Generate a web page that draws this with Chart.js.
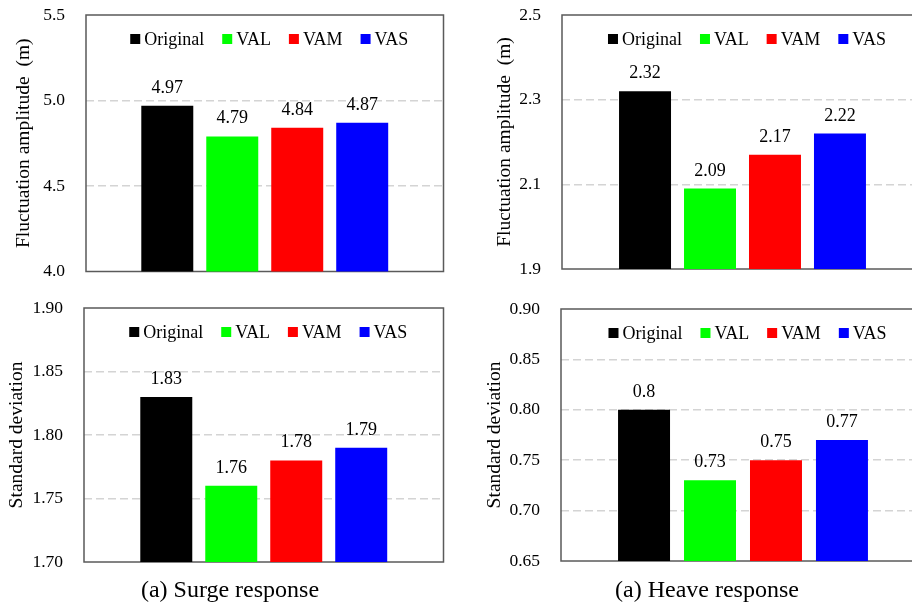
<!DOCTYPE html>
<html><head><meta charset="utf-8">
<script src="https://cdn.jsdelivr.net/npm/chart.js@4"></script>
<style>
html,body{margin:0;padding:0;background:#fff;overflow:hidden;width:912px;height:607px;}
canvas{position:absolute;}
</style></head><body>
<canvas id="c1" width="460" height="290" style="left:0;top:0"></canvas>
<canvas id="c2" width="480" height="290" style="left:460px;top:0"></canvas>
<canvas id="c3" width="460" height="317" style="left:0;top:290px"></canvas>
<canvas id="c4" width="494" height="317" style="left:460px;top:290px"></canvas>
<script>
// ---- data ----
const seriesNames = ['Original', 'VAL', 'VAM', 'VAS'];
const surgeAmplitude = [4.97, 4.79, 4.84, 4.87];
const heaveAmplitude = [2.32, 2.09, 2.17, 2.22];
const surgeStd = [1.83, 1.76, 1.78, 1.79];
const heaveStd = [0.8, 0.73, 0.75, 0.77];
const surgeAmpTicks = ['4.0', '4.5', '5.0', '5.5'];
const heaveAmpTicks = ['1.9', '2.1', '2.3', '2.5'];
const surgeStdTicks = ['1.70', '1.75', '1.80', '1.85', '1.90'];
const heaveStdTicks = ['0.65', '0.70', '0.75', '0.80', '0.85', '0.90'];
const ampTitle = 'Fluctuation amplitude  (m)';
const stdTitle = 'Standard deviation';
const surgeCaption = '(a) Surge response';
const heaveCaption = '(a) Heave response';

// ---- styles ----
const seriesColors = ['#000000', '#00ff00', '#ff0000', '#0000ff'];
const SERIF = "'Liberation Serif', 'Times New Roman', serif";
Chart.defaults.font.family = SERIF;
Chart.defaults.color = '#000';

const framePlugin = {
  id: 'frame',
  beforeDatasetsDraw(chart) {
    const a = chart.chartArea, ctx = chart.ctx;
    ctx.save();
    ctx.strokeStyle = '#5a5a5a';
    ctx.lineWidth = 1.5;
    ctx.strokeRect(a.left, a.top, a.right - a.left, a.bottom - a.top);
    ctx.restore();
  }
};
const valueLabels = {
  id: 'valueLabels',
  afterDatasetsDraw(chart) {
    const ctx = chart.ctx;
    ctx.save();
    ctx.font = '18px ' + SERIF;
    ctx.fillStyle = '#000';
    ctx.textAlign = 'center';
    ctx.textBaseline = 'alphabetic';
    chart.data.datasets.forEach((ds, i) => {
      chart.getDatasetMeta(i).data.forEach((el, j) => {
        ctx.fillText(String(ds.data[j]), el.x, el.y - 13);
      });
    });
    ctx.restore();
  }
};
// legend drawn inside the plot area, in one row
const innerLegend = {
  id: 'innerLegend',
  afterDatasetsDraw(chart) {
    const ctx = chart.ctx, a = chart.chartArea;
    const box = 10, gapText = 4, gapItem = 18;
    ctx.save();
    ctx.font = '18px ' + SERIF;
    ctx.textBaseline = 'middle';
    ctx.textAlign = 'left';
    const items = chart.data.datasets.map(ds => ({ text: ds.label, color: ds.backgroundColor, w: ctx.measureText(ds.label).width }));
    const total = items.reduce((s, it) => s + box + gapText + it.w, 0) + gapItem * (items.length - 1);
    let x = (a.left + a.right) / 2 + 4.5 - total / 2;
    const y = a.top + 24;
    items.forEach(it => {
      ctx.fillStyle = it.color;
      ctx.fillRect(x, y - box / 2, box, box);
      ctx.fillStyle = '#000';
      ctx.fillText(it.text, x + box + gapText, y + 1);
      x += box + gapText + it.w + gapItem;
    });
    ctx.restore();
  }
};

function build(id, o) {
  const datasets = seriesNames.map((n, i) => ({
    label: n,
    data: [o.values[i]],
    backgroundColor: seriesColors[i],
    borderWidth: 0,
    categoryPercentage: o.cp,
    barPercentage: o.bp
  }));
  const nT = o.tickLabels.length;
  const scales = {
    x: { display: false },
    y: {
      min: o.min, max: o.max,
      ticks: { stepSize: o.step, padding: 21, color: '#000', font: { size: 17.5 },
               callback: (v, i) => o.tickLabels[i] },
      grid: { drawTicks: false, lineWidth: 1.5,
              color: c => (c.index === 0 || c.index === nT - 1) ? 'rgba(0,0,0,0)' : '#d4d4d4' },
      border: { display: false, dash: [8, 4] },
      title: { display: true, text: o.axisTitle, color: '#000', font: { size: 19.5 },
               padding: { top: o.titlePad, bottom: 0 } },
      afterFit: s => { s.width = o.left; s.paddingTop = 0; s.paddingBottom = 0; }
    }
  };
  if (o.rightAxis) {
    scales.yR = { position: 'right', display: true, grid: { display: false },
                  border: { display: false }, ticks: { display: false },
                  afterFit: s => { s.width = o.rightAxis; s.paddingTop = 0; s.paddingBottom = 0; } };
  }
  return new Chart(document.getElementById(id), {
    type: 'bar',
    data: { labels: [''], datasets },
    options: {
      responsive: false,
      animation: false,
      devicePixelRatio: 1,
      layout: { padding: o.padding },
      scales,
      plugins: {
        tooltip: { enabled: false },
        legend: { display: false },
        title: o.caption ? {
          display: true, text: o.caption, position: 'bottom', color: '#000',
          font: { size: 24, weight: 'normal' },
          padding: { top: o.capPadTop, bottom: 1.6 }
        } : { display: false }
      }
    },
    plugins: [framePlugin, valueLabels, innerLegend]
  });
}

build('c1', { values: surgeAmplitude, tickLabels: surgeAmpTicks, min: 4.0, max: 5.5, step: 0.5,
  axisTitle: ampTitle, titlePad: 12.3, left: 86, cp: 0.727, bp: 0.8,
  padding: { top: 15, right: 16.5, bottom: 18.5, left: 0 } });
build('c2', { values: heaveAmplitude, tickLabels: heaveAmpTicks, min: 1.9, max: 2.5, step: 0.2,
  axisTitle: ampTitle, titlePad: 33.3, left: 102, cp: 0.72, bp: 0.8,
  padding: { top: 15, right: 17, bottom: 21, left: 0 } });
build('c3', { values: surgeStd, tickLabels: surgeStdTicks, min: 1.70, max: 1.90, step: 0.05,
  axisTitle: stdTitle, titlePad: 5.3, left: 84, cp: 0.723, bp: 0.8, rightAxis: 16.5,
  caption: surgeCaption, capPadTop: 14.6,
  padding: { top: 18, right: 0, bottom: 0, left: 0 } });
build('c4', { values: heaveStd, tickLabels: heaveStdTicks, min: 0.65, max: 0.90, step: 0.05,
  axisTitle: stdTitle, titlePad: 23, left: 101, cp: 0.725, bp: 0.788, rightAxis: 29,
  caption: heaveCaption, capPadTop: 15.6,
  padding: { top: 19, right: 0, bottom: 0, left: 0 } });
</script>
</body></html>
